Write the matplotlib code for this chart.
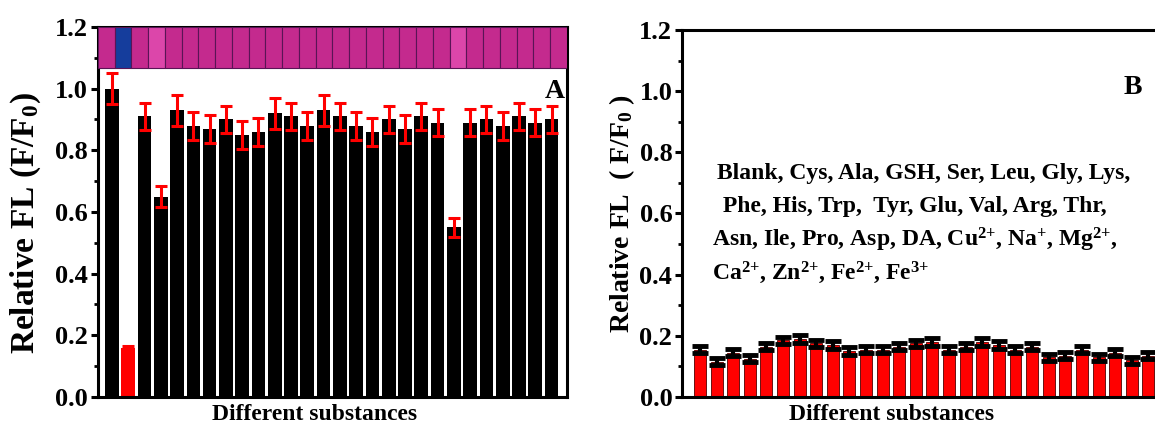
import numpy as np
import matplotlib
matplotlib.use('Agg')
import matplotlib.pyplot as plt

plt.rcParams['font.family'] = 'Liberation Serif'
plt.rcParams['font.weight'] = 'bold'
plt.rcParams['mathtext.fontset'] = 'custom'
plt.rcParams['mathtext.rm'] = 'Liberation Serif:bold'
plt.rcParams['mathtext.bf'] = 'Liberation Serif:bold'
plt.rcParams['mathtext.it'] = 'Liberation Serif:bold'

substances = ['Blank', 'Cys', 'Ala', 'GSH', 'Ser', 'Leu', 'Gly', 'Lys', 'Phe', 'His',
              'Trp', 'Tyr', 'Glu', 'Val', 'Arg', 'Thr', 'Asn', 'Ile', 'Pro', 'Asp',
              'DA', 'Cu2+', 'Na+', 'Mg2+', 'Ca2+', 'Zn2+', 'Fe2+', 'Fe3+']

# panel A: probe + Cys-free substances
vals_a = [1.00, 0.16, 0.91, 0.65, 0.93, 0.88, 0.87, 0.90, 0.85, 0.86, 0.92, 0.91, 0.88, 0.93,
          0.91, 0.88, 0.86, 0.90, 0.87, 0.91, 0.89, 0.55, 0.89, 0.90, 0.88, 0.91, 0.89, 0.90]
err_a = [0.05, 0.005, 0.045, 0.035, 0.05, 0.045, 0.045, 0.045, 0.045, 0.045, 0.05, 0.045, 0.045, 0.05,
         0.045, 0.045, 0.045, 0.045, 0.045, 0.045, 0.045, 0.03, 0.045, 0.045, 0.045, 0.045, 0.045, 0.045]
colors_a = ['black', 'red'] + ['black'] * 26

# photo strip colours above the bars
strip_colors = ['#c42a8e', '#153d9c', '#c42a8e', '#dc46aa'] + ['#c42a8e'] * 17 + ['#dc46aa'] + ['#c42a8e'] * 6

# panel B: with Cys
vals_b = [0.155, 0.115, 0.145, 0.125, 0.165, 0.185, 0.19, 0.175, 0.17, 0.15, 0.155, 0.155, 0.165, 0.175,
          0.18, 0.155, 0.165, 0.18, 0.17, 0.155, 0.165, 0.13, 0.135, 0.155, 0.13, 0.145, 0.12, 0.135]
err_b = [0.012] * 28

legend_lines = ['Blank, Cys, Ala, GSH, Ser, Leu, Gly, Lys,',
                ' Phe, His, Trp,  Tyr, Glu, Val, Arg, Thr,',
                r'Asn, Ile, Pro, Asp, DA, Cu$^{2{+}}$, Na$^{{+}}$, Mg$^{2{+}}$,',
                r'Ca$^{2{+}}$, Zn$^{2{+}}$, Fe$^{2{+}}$, Fe$^{3{+}}$']

x = np.arange(1, len(substances) + 1)

fig = plt.figure(figsize=(11.55, 4.29), dpi=100)
ax1 = fig.add_axes([0.0848, 0.0746, 0.406, 0.8625])
ax2 = fig.add_axes([0.5905, 0.0746, 0.4095, 0.8555])

# ---- A ----
ax1.bar(x, vals_a, width=0.84, color=colors_a, zorder=2)
ax1.errorbar(x, vals_a, yerr=err_a, fmt='none', ecolor='red', elinewidth=2.2,
             capsize=4, capthick=2.2, zorder=3)
xl0, xl1 = 0.14, 28.94
cw = (xl1 - xl0) / len(strip_colors)
cx = xl0 + cw * (np.arange(len(strip_colors)) + 0.5)
ax1.bar(cx, 1.2 - 1.066, bottom=1.066, width=cw, color=strip_colors,
        edgecolor='#5a1456', linewidth=0.8, zorder=4)
ax1.set_xlim(xl0, xl1)
ax1.set_ylim(0, 1.2)
ax1.text(0.974, 0.825, 'A', transform=ax1.transAxes, ha='center', va='center',
         fontsize=20, fontweight='bold')
ax1.set_ylabel(r'Relative FL (F/F$_{0}$)', fontsize=24, fontweight='bold')
ax1.yaxis.set_label_coords(-0.118, 0.47)
ax1.set_xlabel('Different substances', fontsize=17, fontweight='bold')
ax1.xaxis.set_label_coords(0.463, -0.018)

# ---- B ----
ax2.bar(x, vals_b, width=0.72, color='#ff0000', edgecolor='#500000', linewidth=0.6, zorder=2)
ax2.errorbar(x, vals_b, yerr=err_b, fmt='none', ecolor='black', elinewidth=3,
             capsize=6, capthick=3.5, zorder=3)
ax2.set_xlim(-0.08, 28.4)
ax2.set_ylim(0, 1.2)
ax2.spines['right'].set_visible(False)
ax2.text(0.953, 0.842, 'B', transform=ax2.transAxes, ha='center', va='center',
         fontsize=20, fontweight='bold')
ys = [0.610, 0.520, 0.428, 0.338]
xs = [0.074, 0.074, 0.063, 0.063]
for line, xx, yy in zip(legend_lines, xs, ys):
    ax2.text(xx, yy, line, transform=ax2.transAxes, ha='left', va='center',
             fontsize=17, fontweight='bold')
ax2.set_ylabel(r'Relative FL  ( F/F$_{0}$ )', fontsize=20, fontweight='bold', labelpad=2)
ax2.set_xlabel('Different substances', fontsize=17, fontweight='bold')
ax2.xaxis.set_label_coords(0.442, -0.018)

for ax in (ax1, ax2):
    ax.set_yticks([0.0, 0.2, 0.4, 0.6, 0.8, 1.0, 1.2])
    ax.set_yticks(np.arange(0.1, 1.2, 0.2), minor=True)
    ax.set_xticks([])
    ax.tick_params(axis='y', which='major', direction='out', length=5, width=2.2,
                   labelsize=19, pad=2)
    ax.tick_params(axis='y', which='minor', direction='out', length=3, width=2)
    for lab in ax.get_yticklabels():
        lab.set_fontweight('bold')
    for s in ax.spines.values():
        s.set_linewidth(2.2)

plt.savefig('out.png', dpi=100)
